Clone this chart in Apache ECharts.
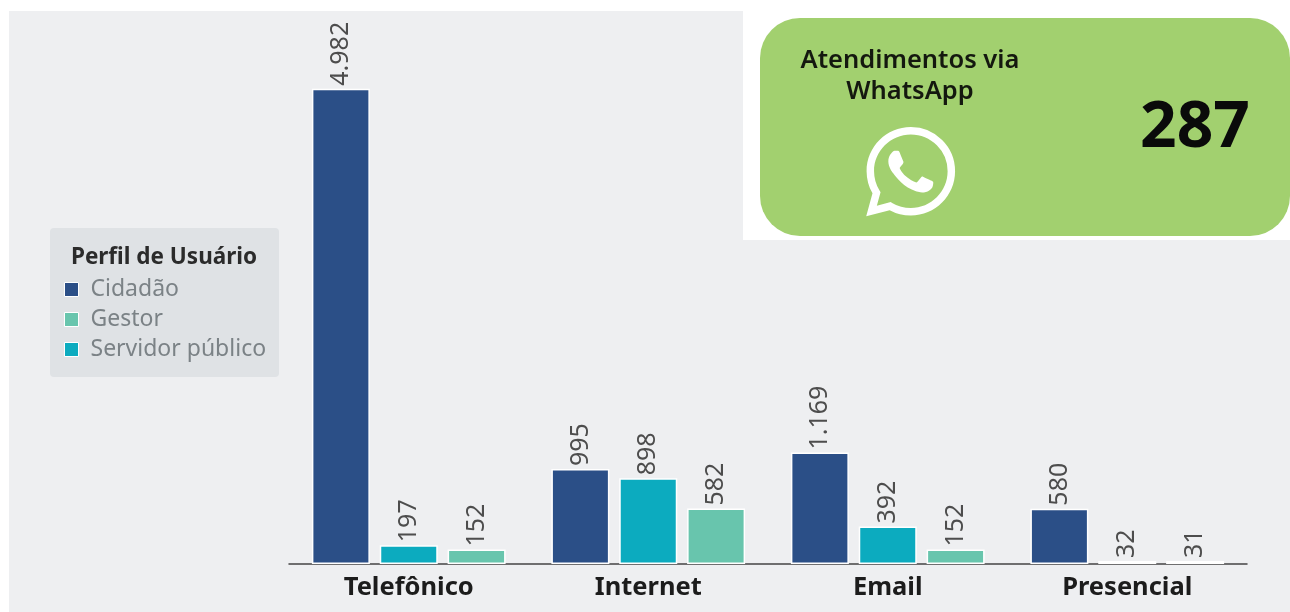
<!DOCTYPE html>
<html><head><meta charset="utf-8">
<style>html,body{margin:0;padding:0;background:#fff}#c{width:1290px;height:612px}</style>
<script src="https://cdn.jsdelivr.net/npm/echarts@6/dist/echarts.min.js"></script>
</head><body><div id="c"></div>
<script>
const categories = ['Telefônico','Internet','Email','Presencial'];
const cidadao = [4982,995,1169,580];
const servidor = [197,898,392,32];
const gestor = [152,582,152,31];
const legendOrder = ['Cidadão','Gestor','Servidor público'];
const legendTitle = 'Perfil de Usuário';
const cardTitle = ['Atendimentos via','WhatsApp'];
const cardValue = '287';
const WA = 'M17.472 14.382c-.297-.149-1.758-.867-2.03-.967-.273-.099-.471-.148-.67.15-.197.297-.767.966-.94 1.164-.173.199-.347.223-.644.075-.297-.15-1.255-.463-2.39-1.475-.883-.788-1.48-1.761-1.653-2.059-.173-.297-.018-.458.13-.606.134-.133.298-.347.446-.52.149-.174.198-.298.298-.497.099-.198.05-.371-.025-.52-.075-.149-.669-1.612-.916-2.207-.242-.579-.487-.5-.669-.51-.173-.008-.371-.01-.57-.01-.198 0-.52.074-.792.372-.272.297-1.04 1.016-1.04 2.479 0 1.462 1.065 2.875 1.213 3.074.149.198 2.096 3.2 5.077 4.487.709.306 1.262.489 1.694.625.712.227 1.36.195 1.871.118.571-.085 1.758-.719 2.006-1.413.248-.694.248-1.289.173-1.413-.074-.124-.272-.198-.57-.347z M12.051 21.785h-.004a9.87 9.87 0 0 1 -5.031-1.378l-.361-.214-3.741.982.998-3.648-.235-.374a9.86 9.86 0 0 1 -1.51-5.26c.001-5.45 4.436-9.884 9.888-9.884 2.64 0 5.122 1.03 6.988 2.898a9.825 9.825 0 0 1 2.893 6.994c-.003 5.45-4.437 9.884-9.885 9.884z M20.464 3.488A11.815 11.815 0 0 0 12.05 0C5.495 0 .16 5.335.157 11.892c0 2.096.547 4.149 1.588 5.945L.057 24l6.305-1.654a11.882 11.882 0 0 0 5.683 1.448h.005c6.554 0 11.89-5.335 11.893-11.893a11.821 11.821 0 0 0 -3.48-8.413z';
const FONT = '"Noto Sans","Open Sans",sans-serif';
const fmt = v => String(v).replace(/\B(?=(\d{3})+$)/g,'.');
echarts.graphic.registerShape('waIcon', echarts.graphic.extendPath(WA, {}));
function bar(name,data,color){
  return {name,type:'bar',data,barWidth:58,barGap:'17%',
    itemStyle:{color,borderColor:'#fff',borderWidth:1.5},
    label:{show:true,position:'top',rotate:90,align:'left',verticalAlign:'middle',distance:3,
      fontFamily:FONT,fontSize:25,color:'#4d4d4d',formatter:p=>fmt(p.value)}};
}
const chart = echarts.init(document.getElementById('c'),null,{renderer:'canvas'});
chart.setOption({
  animation:false,
  backgroundColor:'#fff',
  grid:{left:289,right:43,top:87,bottom:48},
  xAxis:{type:'category',data:categories,
    axisLine:{lineStyle:{color:'#444',width:1.5}},axisTick:{show:false},
    axisLabel:{fontFamily:FONT,fontWeight:'bold',fontSize:25.5,color:'#1c1c1c',margin:11}},
  yAxis:{type:'value',min:0,max:5000,show:false},
  legend:{orient:'vertical',left:59,top:273,itemWidth:14,itemHeight:14,itemGap:7,
    icon:'rect',data:legendOrder,selectedMode:false,
    itemStyle:{borderColor:'#fff',borderWidth:1},
    textStyle:{fontFamily:FONT,fontSize:23,color:'#7b8286',padding:[0,0,0,7],lineHeight:23}},
  series:[bar(legendOrder[0],cidadao,'#2b4f87'),bar(legendOrder[2],servidor,'#0cabbf'),bar(legendOrder[1],gestor,'#68c5ad')],
  graphic:[
    {type:'rect',z:-10,shape:{x:9,y:11,width:1281,height:601},style:{fill:'#eeeff1'}},
    {type:'rect',z:-9,shape:{x:743,y:11,width:547,height:229},style:{fill:'#fff'}},
    {type:'rect',z:-8,shape:{x:760,y:18,width:530,height:218,r:40},style:{fill:'#a2d06f'}},
    {type:'rect',z:-8,shape:{x:50,y:228,width:229,height:149,r:4},style:{fill:'#dfe2e5'}},
    {type:'text',z:5,x:164,y:258,style:{text:legendTitle,font:'bold 22.5px '+FONT,fill:'#2b2b2b',align:'center',verticalAlign:'middle'}},
    {type:'text',z:5,x:910,y:61,style:{text:cardTitle[0],font:'600 25.5px '+FONT,fill:'#14180f',align:'center',verticalAlign:'middle'}},
    {type:'text',z:5,x:910,y:92,style:{text:cardTitle[1],font:'600 25.5px '+FONT,fill:'#14180f',align:'center',verticalAlign:'middle'}},
    {type:'text',z:5,x:1195,y:129,style:{text:cardValue,font:'bold 64px '+FONT,fill:'#0a0a0a',align:'center',verticalAlign:'middle'}},
    {type:'waIcon',z:5,x:866,y:127,scaleX:3.72,scaleY:3.72,style:{fill:'#fff'}}
  ]
});
</script></body></html>
